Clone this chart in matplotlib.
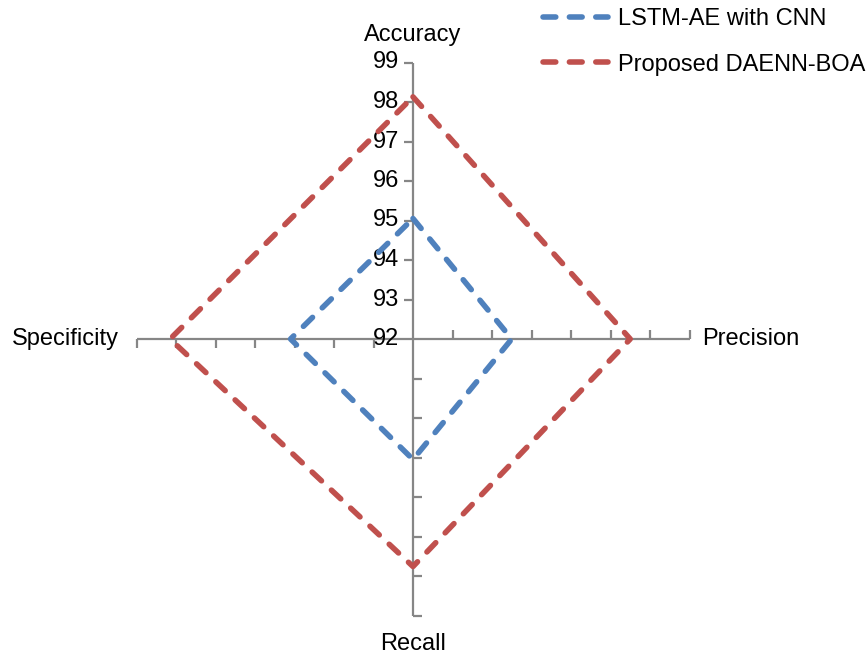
import numpy as np
import matplotlib
matplotlib.use("Agg")
import matplotlib.pyplot as plt
from matplotlib.lines import Line2D

# Radar chart data (axes clockwise from top)
categories = ["Accuracy", "Precision", "Recall", "Specificity"]
lstm_ae_cnn = [95.05, 94.5, 95.05, 95.1]
daenn_boa = [98.13, 97.5, 97.76, 98.15]
tick_values = [92, 93, 94, 95, 96, 97, 98, 99]
series_names = ["LSTM-AE with CNN", "Proposed DAENN-BOA"]

r_min, r_max = tick_values[0], tick_values[-1]
angles = np.array([90, 0, -90, 180]) * np.pi / 180.0  # top, right, bottom, left

W, H, DPI = 868, 656, 100
fig = plt.figure(figsize=(W / DPI, H / DPI), dpi=DPI)
ax = fig.add_axes([0, 0, 1, 1])
ax.set_axis_off()

# map 1 data unit to pixels so the center sits at (413, 339)
cx, cy, unit = 413.0, 339.0, 39.5
ax.set_xlim(-cx / unit, (W - cx) / unit)
ax.set_ylim(-(H - cy) / unit, cy / unit)

grey = "#868686"
font = "Liberation Sans"
fs = 17

def to_xy(vals):
    r = np.asarray(vals) - r_min
    return r * np.cos(angles), r * np.sin(angles)

# spokes with tick marks (ticks on the counter-clockwise side of each spoke)
tick_len = 9.0 / unit
R = r_max - r_min
for a in angles:
    ux, uy = np.cos(a), np.sin(a)
    px, py = -uy, ux
    ax.plot([0, R * ux], [0, R * uy], color=grey, lw=1.6, zorder=1,
            solid_capstyle="butt")
    for t in tick_values[1:]:
        r = t - r_min
        ax.plot([r * ux, r * ux + tick_len * px], [r * uy, r * uy + tick_len * py],
                color=grey, lw=1.6, zorder=1, solid_capstyle="butt")

# radial tick labels along the top spoke
for t in tick_values:
    ax.text(-14.0 / unit, t - r_min, str(t), ha="right", va="center",
            fontsize=fs, family=font, color="black")

# category labels
ax.text(0, 304 / unit, categories[0], ha="center", va="center", fontsize=fs, family=font)
ax.text(R + 13 / unit, 0.0, categories[1], ha="left", va="center", fontsize=fs, family=font)
ax.text(0, -305 / unit, categories[2], ha="center", va="center", fontsize=fs, family=font)
ax.text(-R - 18 / unit, 0.0, categories[3], ha="right", va="center", fontsize=fs, family=font)

colors = ["#4F81BD", "#C0504D"]
lw = 4.0
dash = (0, (2.3, 2.45))
for vals, col in zip([lstm_ae_cnn, daenn_boa], colors):
    x, y = to_xy(vals)
    x = np.append(x, x[0])
    y = np.append(y, y[0])
    ax.plot(x, y, color=col, lw=lw, linestyle=dash, dash_capstyle="round",
            solid_joinstyle="round", zorder=3)

handles = [Line2D([], [], color=c, lw=lw, linestyle=dash, dash_capstyle="round")
           for c in colors]
leg = fig.legend(handles, series_names, loc="upper left",
                 bbox_to_anchor=(543 / W, 1 - 8 / H), frameon=False,
                 prop={"family": font, "size": fs}, handlelength=2.75,
                 handletextpad=0.42, labelspacing=1.0, borderaxespad=0,
                 borderpad=0)

fig.savefig("out.png", dpi=DPI)
